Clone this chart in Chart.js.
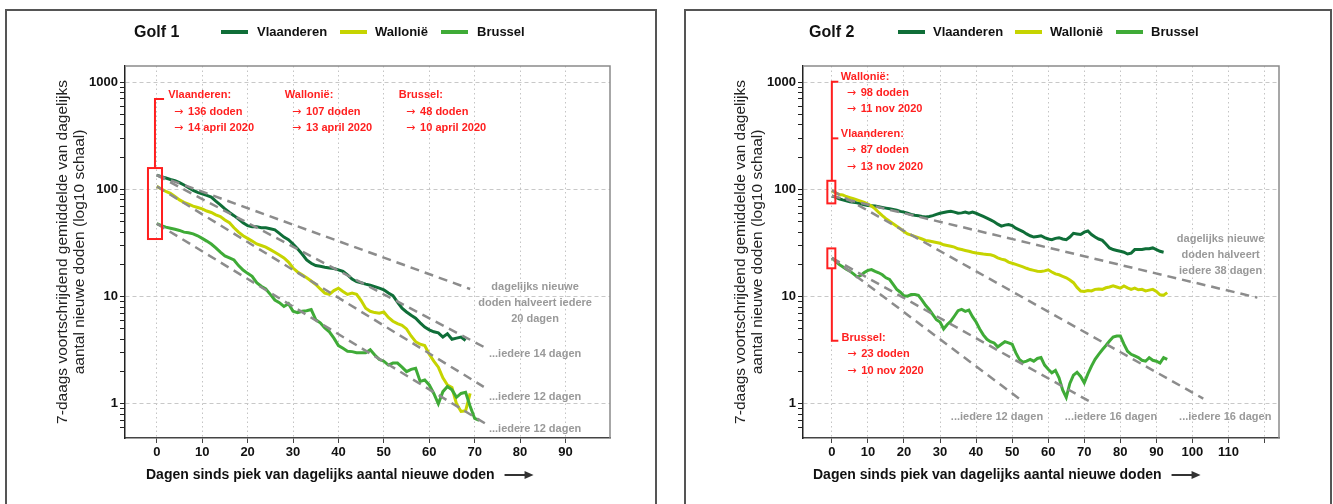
<!DOCTYPE html>
<html>
<head>
<meta charset="utf-8">
<script src="https://cdn.jsdelivr.net/npm/chart.js@4"></script>
<style>
  body { margin: 0; width: 1333px; height: 504px; overflow: hidden; background: #fff; position: relative;
         font-family: "Liberation Sans", Arial, sans-serif; }
  .panel { position: absolute; top: 9px; height: 520px; border: 2px solid #555; box-sizing: border-box; }
  canvas { position: absolute; top: 0; }
  .lbl { position: absolute; top: 22px; line-height: 20px; font-weight: bold; font-size: 13px; color: #111; white-space: nowrap; }
  .golf { font-size: 16px; }
  .sw { position: absolute; top: 30px; width: 27px; height: 4px; }
</style>
</head>
<body>
<div class="panel" style="left:5px;width:652px"></div>
<div class="panel" style="left:684px;width:648px"></div>
<canvas id="golf1" width="666" height="504" style="left:0"></canvas>
<canvas id="golf2" width="655" height="504" style="left:678px"></canvas>

<div class="lbl golf" style="left:134px">Golf 1</div>
<div class="sw" style="left:221px;background:#0f6e38"></div><div class="lbl" style="left:257px">Vlaanderen</div>
<div class="sw" style="left:340px;background:#c6d400"></div><div class="lbl" style="left:375px">Wallonië</div>
<div class="sw" style="left:441px;background:#3fab37"></div><div class="lbl" style="left:477px">Brussel</div>

<div class="lbl golf" style="left:809px">Golf 2</div>
<div class="sw" style="left:898px;background:#0f6e38"></div><div class="lbl" style="left:933px">Vlaanderen</div>
<div class="sw" style="left:1015px;background:#c6d400"></div><div class="lbl" style="left:1050px">Wallonië</div>
<div class="sw" style="left:1116px;background:#3fab37"></div><div class="lbl" style="left:1151px">Brussel</div>

<script>
// 7-daags gemiddelde, één waarde per dag vanaf de piek (dag 0)
const g1Vlaanderen = [136, 132, 128, 124, 121, 116, 110, 104, 98, 94, 91, 88, 85, 78, 72, 66, 61, 57, 53, 49,
  46, 45, 45, 44, 44, 43, 42, 39, 36, 34, 31, 28, 25, 22, 20.5, 19.5, 19.2, 18.8, 18.5, 18.3,
  17.8, 17.2, 16, 14.6, 13.8, 13.5, 13.1, 12.8, 12.4, 12, 11.6, 10.8, 10.2, 8.9, 7.8, 7.2, 6.7, 6.3, 5.7, 5.2,
  4.9, 4.7, 4.6, 4.2, 4.5, 4.0, 4.1, 4.2, 3.9];
const g1Wallonie = [107, 101, 96, 92, 86, 80, 76, 73, 70, 68, 66, 63, 61, 58, 56, 52, 49, 44, 40, 37,
  35, 33, 31, 30, 29, 27.5, 26, 24.5, 23, 21, 18.5, 17, 16, 15, 14, 13, 11.8, 10.8, 10.5, 11.4,
  12, 11.2, 10.5, 10.8, 10.5, 9.2, 7.8, 7.3, 7.1, 7.0, 7.2, 6.4, 5.9, 5.6, 5.4, 5.0, 4.3, 3.8, 3.6, 3.5,
  2.9, 2.5, 2.2, 1.75, 1.5, 1.42, 1.0, 0.85, 0.86, 1.25];
const g1Brussel = [48, 46, 44.5, 43.5, 42.5, 41.5, 40, 39.5, 38.5, 37, 35, 33, 31, 28.5, 26, 24, 23, 22, 19.5, 17.7,
  16.5, 15.5, 13.5, 12.5, 11.8, 10.5, 9.3, 8.8, 8.1, 8.6, 7.3, 7.1, 7.3, 7.4, 7.6, 6.1, 5.7, 5.1, 4.7, 4.1,
  3.5, 3.3, 3.1, 3.07, 3.0, 3.0, 3.0, 3.2, 2.85, 2.6, 2.5, 2.3, 2.4, 2.4, 2.2, 2.0, 2.1, 2.15, 1.62, 1.67,
  1.5, 1.25, 1.0, 1.3, 1.45, 1.35, 1.15, 1.25, 1.28, 0.95, 0.73, 0.7];

const g2Vlaanderen = [87, 85, 82, 80, 78.5, 77, 76, 75, 73.5, 72, 71, 70.5, 70, 69, 68, 67, 66, 65, 64, 62.5,
  61.5, 60, 58.5, 57.5, 57, 56, 55.5, 56, 57, 58.5, 60, 61, 62, 62.5, 61.5, 60, 60.5, 61.5, 60, 61.5,
  60, 58, 56, 54, 52, 50, 47.5, 45.5, 46.5, 47, 46, 43.5, 42, 40.5, 38.5, 37, 36, 36.5, 37, 35.5,
  34.5, 34, 35, 35.5, 34.5, 34, 36, 39, 38.5, 38, 40, 41, 38, 36, 34.5, 33.5, 31, 28.5, 27.5, 27,
  26.5, 26, 25, 25.5, 27.5, 27.5, 27.5, 28, 28, 28.5, 27.5, 26.5, 26];
const g2Wallonie = [98, 93, 90, 89, 86, 84, 82, 80, 78, 76, 73, 70, 66, 61, 57, 53.5, 50.5, 48, 45.5, 43,
  40.5, 38.5, 37.5, 36.5, 35.5, 34.5, 33.5, 33, 32.5, 32, 31.5, 30.5, 30, 29.5, 29, 28, 27.5, 27, 26.5, 26,
  25.6, 25.3, 25, 24.8, 24.6, 24, 23, 22.4, 22, 21, 20.5, 20, 19.5, 19, 18.4, 17.9, 17.6, 17.3, 17.2, 17.4,
  17.8, 17, 16.3, 16, 15.5, 15, 14.3, 13.5, 12.2, 11.3, 11.2, 11.4, 11.3, 11.7, 11.8, 11.7, 12.1, 12.3, 12.6, 12.3,
  12, 12.6, 12.1, 11.7, 12, 11.6, 11.7, 11.3, 11.5, 11.7, 11.2, 10.4, 10.3, 10.9];
const g2Brussel = [23, 21.5, 20, 19, 18, 17.3, 16.3, 15.3, 15.8, 16.8, 17.6, 17.9, 17.2, 16.7, 16, 15, 14.5, 13, 11.7, 11,
  10.2, 10.1, 10.5, 10.5, 10.3, 9.3, 8.3, 7.6, 6.8, 6.1, 5.8, 5.0, 5.5, 5.9, 6.6, 7.4, 7.6, 7.3, 7.5, 6.5,
  5.8, 5.0, 4.4, 4.0, 3.8, 3.7, 3.4, 3.6, 3.8, 3.7, 3.6, 3.0, 2.6, 2.45, 2.5, 2.6, 2.5, 2.65, 2.7, 2.3,
  2.1, 1.95, 2.05, 1.75, 1.35, 1.15, 1.55, 1.85, 1.97, 1.8, 1.57, 1.9, 2.25, 2.6, 2.9, 3.2, 3.5, 3.85, 4.2, 4.3,
  4.3, 3.6, 3.1, 2.9, 2.8, 2.7, 2.55, 2.5, 2.7, 2.55, 2.5, 2.4, 2.7, 2.6];

// halveringslijnen: [dag, waarde] aan begin en eind
const g1Trends = [[[0, 136], [69, 11.8]], [[0, 136], [72, 3.4]], [[0, 107], [72, 1.44]], [[0, 48], [73, 0.63]]];
const g2Trends = [[[0, 87], [118, 9.8]], [[0, 98], [103, 1.12]], [[0, 23], [72, 1.03]], [[0, 23], [53, 1.05]]];

const yTickLabels = [1, 10, 100, 1000];

const colVL = '#0f6e38', colWA = '#c6d400', colBR = '#3fab37';
const FONT = '"Liberation Sans", Arial, sans-serif';

const toPoints = arr => arr.map((v, i) => ({ x: i, y: v }));

// red brackets / grey labels / x-title, placed in data coordinates
const notesPlugin = {
  id: 'notes',
  afterDraw(chart, args, opts) {
    const { ctx, chartArea: a, scales: { x, y } } = chart;
    const X = d => x.getPixelForValue(d), Y = v => y.getPixelForValue(v);
    ctx.save();
    // grey frame top/right
    ctx.strokeStyle = '#8a8a8a';
    ctx.lineWidth = 1.5;
    ctx.beginPath();
    ctx.moveTo(a.left, a.top); ctx.lineTo(a.right, a.top); ctx.lineTo(a.right, a.bottom);
    ctx.stroke();

    ctx.strokeStyle = '#ff1f1f';
    ctx.lineWidth = 2;
    opts.boxes.forEach(([x0, x1, y0, y1]) => {
      ctx.strokeRect(X(x0), Y(y1), X(x1) - X(x0), Y(y0) - Y(y1));
    });
    opts.paths.forEach(p => {
      ctx.beginPath();
      p.forEach(([d, v], i) => i ? ctx.lineTo(X(d), Y(v)) : ctx.moveTo(X(d), Y(v)));
      ctx.stroke();
    });

    ctx.textBaseline = 'middle';
    ctx.textAlign = 'left';
    ctx.fillStyle = '#ff1f1f';
    opts.texts.forEach(([t, d, v]) => {
      let px = X(d);
      if (t.startsWith('→')) {
        ctx.font = '11px "DejaVu Sans", sans-serif';
        ctx.fillText('→', px, Y(v));
        px += 14;
        t = t.slice(2);
      }
      ctx.font = 'bold 11px ' + FONT;
      ctx.fillText(t, px, Y(v));
    });
    ctx.font = 'bold 11px ' + FONT;
    ctx.textAlign = 'center';
    ctx.fillStyle = '#999';
    opts.grey.forEach(([t, d, v]) => ctx.fillText(t, X(d), Y(v)));

    // x-as titel met pijl
    ctx.font = 'bold 14px ' + FONT;
    ctx.textAlign = 'left';
    ctx.fillStyle = '#111';
    const ty = a.bottom + 37;
    ctx.fillText(opts.xTitle, opts.titleX, ty);
    const ax = opts.titleX + ctx.measureText(opts.xTitle).width + 10;
    ctx.strokeStyle = '#333';
    ctx.lineWidth = 2;
    ctx.beginPath(); ctx.moveTo(ax, ty); ctx.lineTo(ax + 22, ty); ctx.stroke();
    ctx.fillStyle = '#333';
    ctx.beginPath(); ctx.moveTo(ax + 29, ty); ctx.lineTo(ax + 20, ty - 4); ctx.lineTo(ax + 20, ty + 4); ctx.closePath(); ctx.fill();
    ctx.restore();
  }
};

function isWholeLog(v) {
  const m = v / Math.pow(10, Math.floor(Math.log10(v) + 1e-9));
  return Math.abs(m - Math.round(m)) < 1e-6;
}

function makeChart(id, series, trends, xMin, xMax, lastLabel, padRight, notes) {
  const datasets = trends.map(t => ({
    data: t.map(([d, v]) => ({ x: d, y: v })),
    borderColor: '#8c8c8c', borderWidth: 2.5, borderDash: [9, 6]
  }));
  series.forEach(([vals, col]) => datasets.push({ data: toPoints(vals), borderColor: col, borderWidth: 3 }));

  new Chart(document.getElementById(id), {
    type: 'line',
    data: { datasets },
    options: {
      responsive: false, animation: false, devicePixelRatio: 1,
      layout: { padding: { left: 0, top: 66, right: padRight, bottom: 0 } },
      elements: { point: { radius: 0 }, line: { tension: 0 } },
      plugins: { legend: { display: false }, tooltip: { enabled: false }, notes },
      scales: {
        x: {
          type: 'linear', min: xMin, max: xMax,
          afterFit: s => { s.height = 66; },
          ticks: {
            stepSize: 10, includeBounds: false, autoSkip: false, maxRotation: 0, padding: 2,
            color: '#111', font: { family: FONT, size: 13, weight: 'bold' },
            callback: v => v <= lastLabel ? v : ''
          },
          grid: { color: '#c4c4c4', lineWidth: 1, tickLength: 5, tickColor: '#444' },
          border: { display: true, color: '#444', width: 1.5, dash: [1.5, 3] }
        },
        y: {
          type: 'logarithmic', min: 0.48, max: 1420,
          afterFit: s => { s.width = 125; },
          ticks: {
            autoSkip: false, padding: 2, color: '#111', font: { family: FONT, size: 13, weight: 'bold' },
            callback: v => yTickLabels.includes(v) ? String(v) : ''
          },
          grid: {
            tickLength: 5,
            color: c => c.tick && yTickLabels.includes(c.tick.value) ? '#c8c8c8' : 'rgba(0,0,0,0)',
            tickColor: c => c.tick && isWholeLog(c.tick.value) && c.tick.value > 0.5 ? '#222' : 'rgba(0,0,0,0)'
          },
          border: { display: true, color: '#222', width: 1.5, dash: [4, 3] },
          title: {
            display: true, color: '#222',
            text: ['7-daags voortschrijdend gemiddelde van dagelijks', 'aantal nieuwe doden (log10 schaal)'],
            font: { family: FONT, size: 15.5, lineHeight: 1.1 },
            padding: { top: 54.5, bottom: 0 }
          }
        }
      }
    },
    plugins: [notesPlugin]
  });
}

const xTitle = 'Dagen sinds piek van dagelijks aantal nieuwe doden';

makeChart('golf1', [[g1Brussel, colBR], [g1Wallonie, colWA], [g1Vlaanderen, colVL]], g1Trends, -7, 99.8, 90, 56, {
  xTitle, titleX: 146,
  boxes: [[-1.94, 1.15, 34.5, 158.5]],
  paths: [[[-0.4, 158.5], [-0.4, 697], [1.6, 697]]],
  texts: [['Vlaanderen:', 2.5, 760], ['→ 136 doden', 3.8, 527], ['→ 14 april 2020', 3.8, 374],
          ['Wallonië:', 28.2, 760], ['→ 107 doden', 29.8, 527], ['→ 13 april 2020', 29.8, 374],
          ['Brussel:', 53.3, 760], ['→ 48 doden', 54.9, 527], ['→ 10 april 2020', 54.9, 374]],
  grey: [['dagelijks nieuwe', 83.3, 12.3], ['doden halveert iedere', 83.3, 8.7], ['20 dagen', 83.3, 6.18],
         ['...iedere 14 dagen', 83.3, 2.91], ['...iedere 12 dagen', 83.3, 1.157], ['...iedere 12 dagen', 83.3, 0.582]]
});

makeChart('golf2', [[g2Brussel, colBR], [g2Wallonie, colWA], [g2Vlaanderen, colVL]], g2Trends, -8, 124, 110, 54, {
  xTitle, titleX: 135,
  boxes: [[-1.25, 0.97, 74.2, 120.6], [-1.25, 0.97, 18.4, 28.2]],
  paths: [[[0, 120.6], [0, 1011], [1.8, 1011]], [[0, 300], [1.8, 300]], [[0, 18.4], [0, 3.88], [1.8, 3.88]]],
  texts: [['Wallonië:', 2.5, 1125], ['→ 98 doden', 4.1, 788], ['→ 11 nov 2020', 4.1, 559],
          ['Vlaanderen:', 2.5, 329], ['→ 87 doden', 4.1, 233], ['→ 13 nov 2020', 4.1, 163],
          ['Brussel:', 2.7, 4.14], ['→ 23 doden', 4.3, 2.91], ['→ 10 nov 2020', 4.3, 2.04]],
  grey: [['dagelijks nieuwe', 107.8, 34.2], ['doden halveert', 107.8, 24.4], ['iedere 38 dagen', 107.8, 17.3],
         ['...iedere 12 dagen', 45.8, 0.758], ['...iedere 16 dagen', 77.4, 0.758], ['...iedere 16 dagen', 109.1, 0.758]]
});
</script>
</body>
</html>
